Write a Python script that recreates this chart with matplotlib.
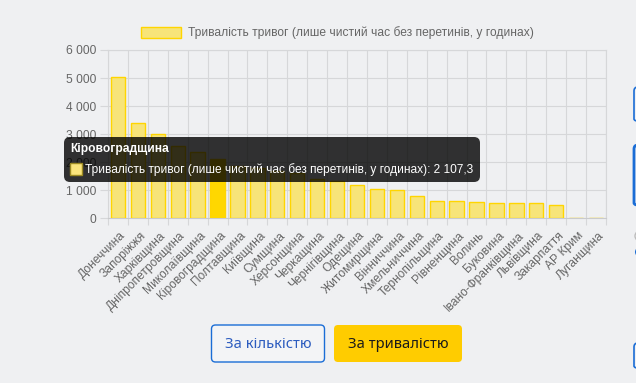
import matplotlib
matplotlib.use("Agg")
import matplotlib.pyplot as plt
from matplotlib.patches import FancyBboxPatch, Rectangle, Circle, Patch
from matplotlib.transforms import ScaledTranslation

plt.rcParams['font.family'] = ['Liberation Sans', 'DejaVu Sans']

# ---- data ----
regions = ["Донеччина", "Запоріжжя", "Харківщина", "Дніпропетровщина", "Миколаївщина",
           "Кіровоградщина", "Полтавщина", "Київщина", "Сумщина", "Херсонщина",
           "Черкащина", "Чернігівщина", "Одещина", "Житомирщина", "Вінниччина",
           "Хмельниччина", "Тернопільщина", "Рівненщина", "Волинь", "Буковина",
           "Івано-Франківщина", "Львівщина", "Закарпаття", "АР Крим", "Луганщина"]
durations = [5025, 3400, 3000, 2580, 2365,
             2107.3, 1850, 1780, 1700, 1620,
             1400, 1330, 1187, 1045, 997,
             795, 630, 617, 581, 545,
             545, 540, 474, 6, 0]
yticks = [0, 1000, 2000, 3000, 4000, 5000, 6000]
ytick_labels = ["0", "1 000", "2 000", "3 000", "4 000", "5 000", "6 000"]
series_label = "Тривалість тривог (лише чистий час без перетинів, у годинах)"
highlight = "Кіровоградщина"
tooltip_value = "2 107,3"
buttons = ["За кількістю", "За тривалістю"]

BG = "#eff0f2"
GRID = "#d6d7d9"
TXT = "#666666"
FILL = "#f7e479"
EDGE = "#ffd500"
HL = "#ffd700"

W, H = 636, 383
fig = plt.figure(figsize=(W / 100, H / 100), dpi=100, facecolor=BG)

# plot area in pixels
L, R, T, B = 108, 606, 50, 218.3
ax = fig.add_axes([L / W, 1 - B / H, (R - L) / W, (B - T) / H], facecolor=BG)

n = len(regions)
xs = list(range(n))
colors = [HL if r == highlight else FILL for r in regions]
ax.bar(xs, durations, width=0.72, color=colors, edgecolor=EDGE, linewidth=1.0, zorder=3)

ax.set_xlim(-0.5, n - 0.5)
ax.set_ylim(0, 6000)
ax.set_yticks(yticks)
ax.set_yticklabels(ytick_labels)
ax.set_xticks(xs)
ax.set_xticklabels(regions, rotation=45, ha='right', va='center', rotation_mode='anchor')
ax.set_xticks([i - 0.5 for i in range(n + 1)], minor=True)

ax.tick_params(axis='x', which='major', length=0, pad=11.2, labelsize=8.64, labelcolor=TXT)
ax.tick_params(axis='x', which='minor', length=5, width=0.8, color=GRID)
ax.tick_params(axis='y', which='major', length=5.8, width=0.8, color=GRID, pad=2.5,
               labelsize=8.64, labelcolor=TXT)
ax.grid(True, which='minor', axis='x', color=GRID, linewidth=0.8, zorder=0)
ax.grid(True, which='major', axis='y', color=GRID, linewidth=0.8, zorder=0)
ax.grid(False, which='major', axis='x')
ax.set_axisbelow(True)
for s in ax.spines.values():
    s.set_color(GRID)
    s.set_linewidth(0.8)
ax.spines['bottom'].set_color("#c9cacc")

offset = ScaledTranslation(6.0 / 100, 0, fig.dpi_scale_trans)
for lab in ax.get_xticklabels():
    lab.set_transform(lab.get_transform() + offset)

# legend
handle = Patch(facecolor=FILL, edgecolor=EDGE, linewidth=1.0)
fig.legend([handle], [series_label], loc='center', bbox_to_anchor=(337 / W, 1 - 33 / H),
           frameon=False, fontsize=8.64, labelcolor=TXT, handlelength=3.33,
           handleheight=1.0, handletextpad=0.58, borderpad=0.0)

# overlay in pixel coordinates
ov = fig.add_axes([0, 0, 1, 1], zorder=10)
ov.set_xlim(0, W)
ov.set_ylim(H, 0)
ov.axis('off')
ov.patch.set_alpha(0)

# tooltip
ov.add_patch(FancyBboxPatch((64, 137), 416, 45, boxstyle='round,pad=0,rounding_size=6',
                            fc=(0, 0, 0, 0.8), ec='none'))
ov.text(70, 149, highlight, color='white', fontweight='bold', fontsize=8.64,
        ha='left', va='center')
ov.add_patch(Rectangle((70, 163), 12, 12, fc='#fbe57c', ec='#9c8a22', lw=1.0))
ov.text(85, 169.5, f"{series_label}: {tooltip_value}", color='white', fontsize=8.55,
        ha='left', va='center')

# buttons
ov.add_patch(FancyBboxPatch((211.5, 325), 113, 37, boxstyle='round,pad=0,rounding_size=4',
                            fc='#f3f4f6', ec='#1a6dd6', lw=1.0))
ov.text(268, 344, buttons[0], color='#2c5cbf', fontsize=10.6, family='Noto Sans',
        ha='center', va='center')
ov.add_patch(FancyBboxPatch((334, 325), 128, 37, boxstyle='round,pad=0,rounding_size=4',
                            fc='#ffcc00', ec='none'))
ov.text(398, 344, buttons[1], color='#1a1a1a', fontsize=10.6, family='Noto Sans',
        ha='center', va='center')

# partial elements at the right edge
BLUE = '#1a6dd6'
ov.add_patch(FancyBboxPatch((634, 87), 30, 36, boxstyle='round,pad=0,rounding_size=4',
                            fc='none', ec=BLUE, lw=1.2))
ov.add_patch(FancyBboxPatch((634, 145), 30, 62, boxstyle='round,pad=0,rounding_size=4',
                            fc='none', ec=BLUE, lw=2.0))
ov.add_patch(Circle((640, 236), 5, fc='none', ec='#bdbdbd', lw=1.0))
ov.add_patch(Circle((640, 252), 5, fc=BLUE, ec='none'))
ov.add_patch(FancyBboxPatch((634, 343), 30, 27, boxstyle='round,pad=0,rounding_size=4',
                            fc='none', ec=BLUE, lw=1.2))

fig.savefig("out.png", dpi=100, facecolor=BG)
